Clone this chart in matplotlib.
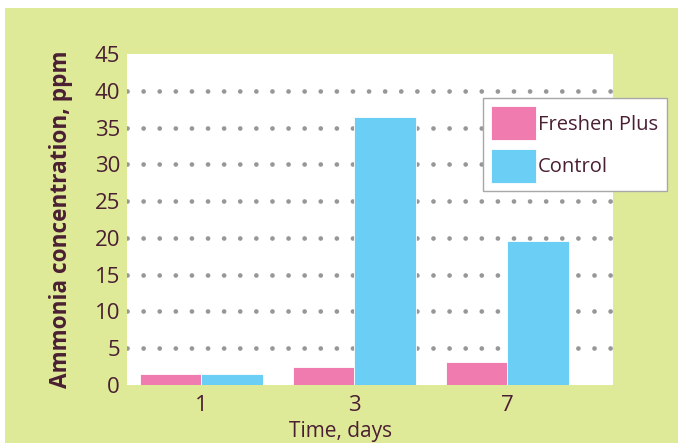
import matplotlib.pyplot as plt
from matplotlib.patches import Rectangle
import numpy as np

plt.rcParams['font.family'] = ['Open Sans', 'DejaVu Sans']

# datos
days = ['1', '3', '7']
freshen_plus = [1.5, 2.5, 3.1]
control = [1.5, 36.4, 19.6]
grid_levels = [5, 10, 15, 20, 25, 30, 35, 40]
ytick_values = [0, 5, 10, 15, 20, 25, 30, 35, 40, 45]

text_color = '#4a1f33'
pink = '#f07bae'
blue = '#6bcff5'
green_bg = '#dfea98'

fig = plt.figure(figsize=(6.78, 4.43), dpi=100)
fig.patch.set_facecolor('white')
# fondo verde (deja un borde blanco arriba y a la izquierda)
fig.patches.append(Rectangle((5 / 678, 0), 1, 1 - 8 / 443, transform=fig.transFigure,
                             facecolor=green_bg, edgecolor='none', zorder=-10))

ax = fig.add_axes([127 / 678, 58 / 443, 486 / 678, 331 / 443])
ax.set_facecolor('white')

x = np.arange(len(days))
w = 0.4
ax.bar(x - w / 2, freshen_plus, w, color=pink, edgecolor='white', linewidth=0.6, label='Freshen Plus', zorder=3)
ax.bar(x + w / 2, control, w, color=blue, edgecolor='white', linewidth=0.6, label='Control', zorder=3)

# lineas de puntos
for g in grid_levels:
    ax.axhline(g, color='#979799', linewidth=3.4, linestyle=(0, (0.01, 3.4)),
               dash_capstyle='round', zorder=1)

ax.set_xlim(-0.487, 2.69)
ax.set_ylim(0, 45)
ax.set_xticks(x)
ax.set_xticklabels(days)
ax.set_yticks(ytick_values)
ax.tick_params(length=0, labelsize=16, labelcolor=text_color)
ax.tick_params(axis='y', pad=5)
ax.tick_params(axis='x', pad=7)
for s in ax.spines.values():
    s.set_visible(False)

ax.set_ylabel('Ammonia concentration, ppm', fontsize=16.3, fontweight='bold', color=text_color, labelpad=15.5)
fig.text(341 / 678, 1 - 431 / 443, 'Time, days', fontsize=15, color=text_color, ha='center', va='center')

leg = ax.legend(loc='upper left', bbox_to_anchor=(483 / 678, 1 - 98 / 443), bbox_transform=fig.transFigure,
                borderaxespad=0, fontsize=14.5, frameon=True, fancybox=False, edgecolor='#a8a8a8',
                framealpha=1, handlelength=2.2, handleheight=2.2, handletextpad=0.12,
                labelspacing=0.45, borderpad=0.42)
leg.get_frame().set_linewidth(1.0)
for t in leg.get_texts():
    t.set_color(text_color)

plt.savefig('out.png', dpi=100)
